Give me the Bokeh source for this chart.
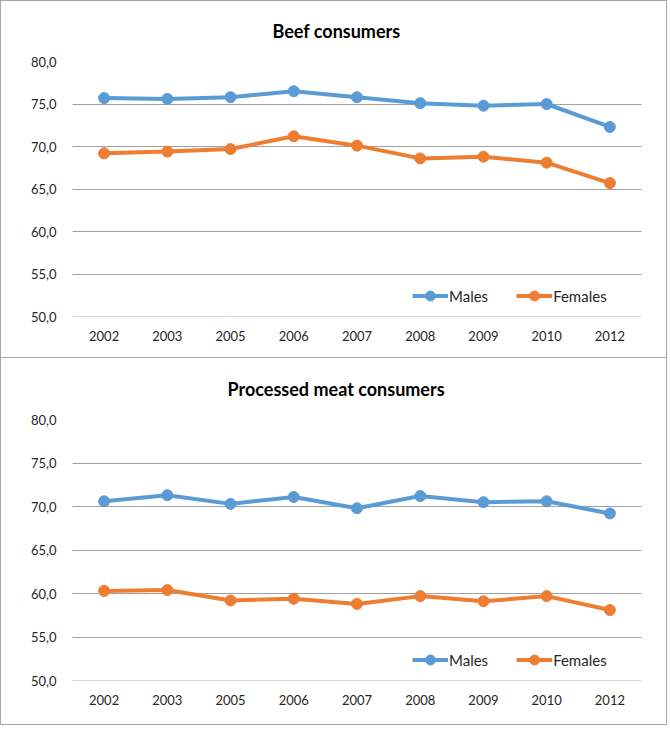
from bokeh.plotting import figure
from bokeh.models import FactorRange, Range1d, FixedTicker, Legend, LegendItem, ColumnDataSource
from bokeh.layouts import column
from bokeh.embed import file_html
from bokeh.resources import INLINE

years = ["2002", "2003", "2005", "2006", "2007", "2008", "2009", "2010", "2012"]
beef_males = [75.7, 75.6, 75.8, 76.5, 75.8, 75.1, 74.8, 75.0, 72.3]
beef_females = [69.2, 69.4, 69.7, 71.2, 70.1, 68.6, 68.8, 68.1, 65.7]
proc_males = [70.6, 71.3, 70.3, 71.1, 69.8, 71.2, 70.5, 70.6, 69.2]
proc_females = [60.3, 60.4, 59.2, 59.4, 58.8, 59.7, 59.1, 59.7, 58.1]
y_ticks = [50, 55, 60, 65, 70, 75, 80]
y_tick_labels = ["50,0", "55,0", "60,0", "65,0", "70,0", "75,0", "80,0"]
series_names = ["Males", "Females"]
titles = ["Beef consumers", "Processed meat consumers"]

BLUE = "#5B9BD5"
ORANGE = "#ED7D31"
FONT = "Lato"
TXT = "#262626"
BORDER = "1px solid #a6a6a6"


def make_panel(title, males, females, height, min_top, min_bottom, standoff, offset, styles):
    p = figure(width=667, height=height, x_range=FactorRange(*years),
               y_range=Range1d(50, 80), output_backend="svg",
               toolbar_location=None, min_border_left=71, min_border_right=27,
               min_border_top=min_top, min_border_bottom=min_bottom,
               styles=styles)
    p.title.text = title
    p.title.align = "left"
    p.title.vertical_align = "top"
    p.title.text_font = FONT
    p.title.text_font_size = "18px"
    p.title.text_font_style = "bold"
    p.title.text_color = "#000000"
    p.title.standoff = standoff
    p.title.offset = offset
    p.outline_line_color = None
    p.background_fill_color = "white"
    p.border_fill_color = "white"

    p.xgrid.grid_line_color = None
    p.ygrid.ticker = FixedTicker(ticks=y_ticks[1:])
    p.ygrid.grid_line_color = "#404040"
    p.ygrid.grid_line_dash = "1 1"
    p.ygrid.grid_line_width = 1

    p.yaxis.ticker = FixedTicker(ticks=y_ticks)
    p.yaxis.major_label_overrides = {t: l for t, l in zip(y_ticks, y_tick_labels)}
    p.yaxis.axis_line_color = None
    p.yaxis.major_tick_line_color = None
    p.yaxis.minor_tick_line_color = None
    p.yaxis.major_label_standoff = 10
    p.yaxis.major_label_text_font = FONT
    p.yaxis.major_label_text_font_size = "13px"
    p.yaxis.major_label_text_color = TXT

    p.xaxis.axis_line_color = "#d9d9d9"
    p.xaxis.axis_line_width = 1
    p.xaxis.major_tick_line_color = None
    p.xaxis.minor_tick_line_color = None
    p.xaxis.major_label_standoff = 8
    p.xaxis.major_label_text_font = FONT
    p.xaxis.major_label_text_font_size = "13px"
    p.xaxis.major_label_text_color = TXT

    items = []
    for name, vals, col in zip(series_names, [males, females], [BLUE, ORANGE]):
        src = ColumnDataSource(dict(x=years, y=vals))
        ln = p.line("x", "y", source=src, line_color=col, line_width=4)
        sc = p.scatter("x", "y", source=src, size=11, fill_color=col, line_color=col)
        items.append(LegendItem(label=name, renderers=[ln, sc]))

    legend = Legend(items=items, orientation="horizontal", location=(340, 8),
                    glyph_width=36, glyph_height=25, label_standoff=1, spacing=28,
                    padding=0, margin=0, background_fill_alpha=0, border_line_alpha=0,
                    label_text_font=FONT, label_text_font_size="15px",
                    label_text_color=TXT)
    p.add_layout(legend, "center")
    return p


p1 = make_panel(titles[0], beef_males, beef_females, 358, 60, 43, 35, 200,
                {"border": BORDER})
p2 = make_panel(titles[1], proc_males, proc_females, 367, 61, 45, 36, 155,
                {"border-left": BORDER, "border-right": BORDER, "border-bottom": BORDER})

layout = column(p1, p2, spacing=0)
open("out.html", "w").write(file_html(layout, INLINE))
